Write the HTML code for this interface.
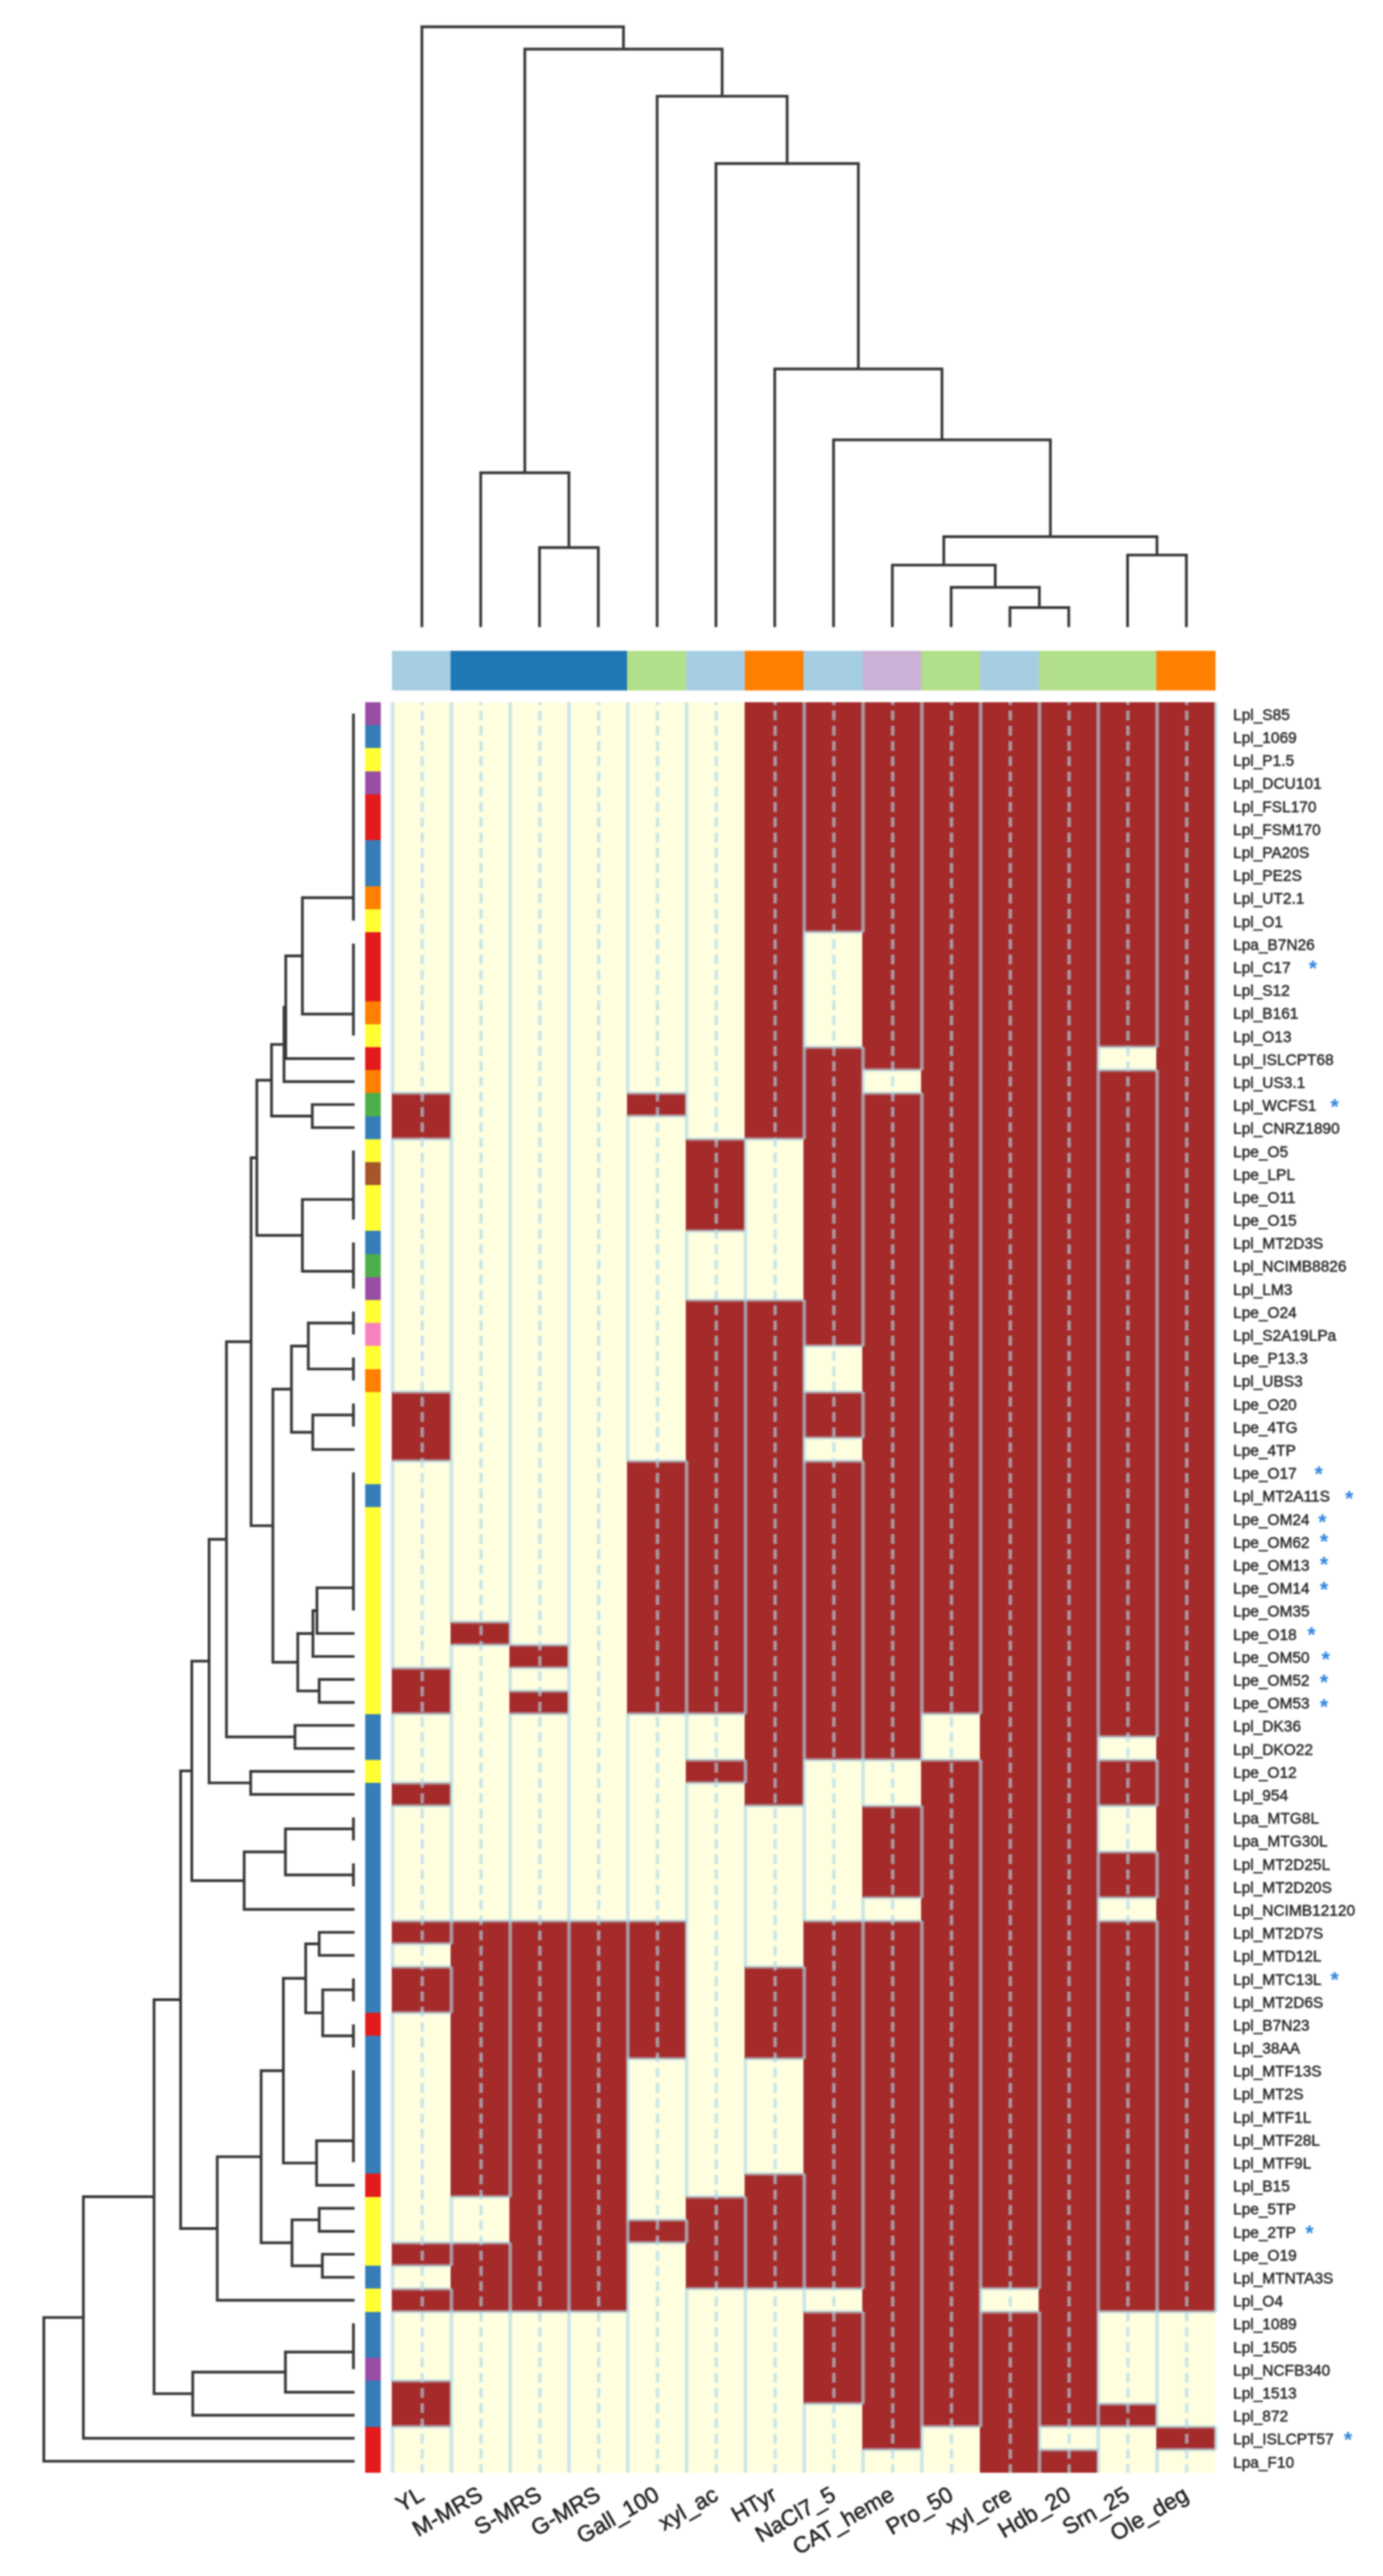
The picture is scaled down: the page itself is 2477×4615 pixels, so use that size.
<!DOCTYPE html>
<html lang="en"><head><meta charset="utf-8"><title>Phenotype heatmap</title>
<style>html,body{margin:0;padding:0;background:#fff}svg{display:block;filter:blur(1.4px)}text{font-family:"Liberation Sans",Arial,Helvetica,sans-serif;fill:#333}.rl{font-size:27.7px}.rl text{stroke:#2a2a2a;fill:#2a2a2a;stroke-width:.8px}.cl text{stroke:#222;fill:#222;stroke-width:.9px}.cl{font-size:40.5px}.as text{font-size:38px;fill:#2E86DE;font-weight:bold}</style></head><body>
<svg width="2477" height="4615" viewBox="0 0 2477 4615">
<rect width="2477" height="4615" fill="#fff"/>
<g shape-rendering="crispEdges">
<rect x="702" y="1166" width="105.32" height="71" fill="#A6CEE3"/>
<rect x="807.32" y="1166" width="315.96" height="71" fill="#1F78B4"/>
<rect x="1123.29" y="1166" width="105.32" height="71" fill="#B2DF8A"/>
<rect x="1228.61" y="1166" width="105.32" height="71" fill="#A6CEE3"/>
<rect x="1333.93" y="1166" width="105.32" height="71" fill="#FF7F00"/>
<rect x="1439.25" y="1166" width="105.32" height="71" fill="#A6CEE3"/>
<rect x="1544.57" y="1166" width="105.32" height="71" fill="#CAB2D6"/>
<rect x="1649.89" y="1166" width="105.32" height="71" fill="#B2DF8A"/>
<rect x="1755.21" y="1166" width="105.32" height="71" fill="#A6CEE3"/>
<rect x="1860.54" y="1166" width="210.64" height="71" fill="#B2DF8A"/>
<rect x="2071.18" y="1166" width="105.32" height="71" fill="#FF7F00"/>
<rect x="654" y="1258" width="28" height="41.19" fill="#984EA3"/>
<rect x="654" y="1299.19" width="28" height="41.19" fill="#377EB8"/>
<rect x="654" y="1340.39" width="28" height="41.19" fill="#FFFF33"/>
<rect x="654" y="1381.58" width="28" height="41.19" fill="#984EA3"/>
<rect x="654" y="1422.78" width="28" height="82.39" fill="#E41A1C"/>
<rect x="654" y="1505.17" width="28" height="82.39" fill="#377EB8"/>
<rect x="654" y="1587.56" width="28" height="41.19" fill="#FF7F00"/>
<rect x="654" y="1628.75" width="28" height="41.19" fill="#FFFF33"/>
<rect x="654" y="1669.95" width="28" height="123.58" fill="#E41A1C"/>
<rect x="654" y="1793.53" width="28" height="41.19" fill="#FF7F00"/>
<rect x="654" y="1834.73" width="28" height="41.19" fill="#FFFF33"/>
<rect x="654" y="1875.92" width="28" height="41.19" fill="#E41A1C"/>
<rect x="654" y="1917.12" width="28" height="41.19" fill="#FF7F00"/>
<rect x="654" y="1958.31" width="28" height="41.19" fill="#4DAF4A"/>
<rect x="654" y="1999.51" width="28" height="41.19" fill="#377EB8"/>
<rect x="654" y="2040.7" width="28" height="41.19" fill="#FFFF33"/>
<rect x="654" y="2081.9" width="28" height="41.19" fill="#A65628"/>
<rect x="654" y="2123.09" width="28" height="82.39" fill="#FFFF33"/>
<rect x="654" y="2205.48" width="28" height="41.19" fill="#377EB8"/>
<rect x="654" y="2246.68" width="28" height="41.19" fill="#4DAF4A"/>
<rect x="654" y="2287.87" width="28" height="41.19" fill="#984EA3"/>
<rect x="654" y="2329.06" width="28" height="41.19" fill="#FFFF33"/>
<rect x="654" y="2370.26" width="28" height="41.19" fill="#F781BF"/>
<rect x="654" y="2411.45" width="28" height="41.19" fill="#FFFF33"/>
<rect x="654" y="2452.65" width="28" height="41.19" fill="#FF7F00"/>
<rect x="654" y="2493.84" width="28" height="164.78" fill="#FFFF33"/>
<rect x="654" y="2658.62" width="28" height="41.19" fill="#377EB8"/>
<rect x="654" y="2699.82" width="28" height="370.75" fill="#FFFF33"/>
<rect x="654" y="3070.57" width="28" height="82.39" fill="#377EB8"/>
<rect x="654" y="3152.96" width="28" height="41.19" fill="#FFFF33"/>
<rect x="654" y="3194.16" width="28" height="411.95" fill="#377EB8"/>
<rect x="654" y="3606.1" width="28" height="41.19" fill="#E41A1C"/>
<rect x="654" y="3647.3" width="28" height="247.17" fill="#377EB8"/>
<rect x="654" y="3894.47" width="28" height="41.19" fill="#E41A1C"/>
<rect x="654" y="3935.66" width="28" height="123.58" fill="#FFFF33"/>
<rect x="654" y="4059.25" width="28" height="41.19" fill="#377EB8"/>
<rect x="654" y="4100.44" width="28" height="41.19" fill="#FFFF33"/>
<rect x="654" y="4141.64" width="28" height="82.39" fill="#377EB8"/>
<rect x="654" y="4224.03" width="28" height="41.19" fill="#984EA3"/>
<rect x="654" y="4265.22" width="28" height="82.39" fill="#377EB8"/>
<rect x="654" y="4347.61" width="28" height="82.39" fill="#E41A1C"/>
</g>
<g>
<rect x="702" y="1258" width="1474.5" height="3172" fill="#FFFFE0"/>
<rect x="701.7" y="1958.31" width="105.92" height="82.39" fill="#A52A2A"/>
<rect x="701.7" y="2493.84" width="105.92" height="123.58" fill="#A52A2A"/>
<rect x="701.7" y="2988.18" width="105.92" height="82.39" fill="#A52A2A"/>
<rect x="701.7" y="3194.16" width="105.92" height="41.19" fill="#A52A2A"/>
<rect x="701.7" y="3441.32" width="105.92" height="41.19" fill="#A52A2A"/>
<rect x="701.7" y="3523.71" width="105.92" height="82.39" fill="#A52A2A"/>
<rect x="701.7" y="4018.05" width="105.92" height="41.19" fill="#A52A2A"/>
<rect x="701.7" y="4100.44" width="105.92" height="41.19" fill="#A52A2A"/>
<rect x="701.7" y="4265.22" width="105.92" height="82.39" fill="#A52A2A"/>
<rect x="807.02" y="2905.79" width="105.92" height="41.19" fill="#A52A2A"/>
<rect x="807.02" y="3441.32" width="105.92" height="494.34" fill="#A52A2A"/>
<rect x="807.02" y="4018.05" width="105.92" height="123.58" fill="#A52A2A"/>
<rect x="912.34" y="2946.99" width="105.92" height="41.19" fill="#A52A2A"/>
<rect x="912.34" y="3029.38" width="105.92" height="41.19" fill="#A52A2A"/>
<rect x="912.34" y="3441.32" width="105.92" height="700.31" fill="#A52A2A"/>
<rect x="1017.66" y="3441.32" width="105.92" height="700.31" fill="#A52A2A"/>
<rect x="1122.99" y="1958.31" width="105.92" height="41.19" fill="#A52A2A"/>
<rect x="1122.99" y="2617.43" width="105.92" height="453.14" fill="#A52A2A"/>
<rect x="1122.99" y="3441.32" width="105.92" height="247.17" fill="#A52A2A"/>
<rect x="1122.99" y="3976.86" width="105.92" height="41.19" fill="#A52A2A"/>
<rect x="1228.31" y="2040.7" width="105.92" height="164.78" fill="#A52A2A"/>
<rect x="1228.31" y="2329.06" width="105.92" height="741.51" fill="#A52A2A"/>
<rect x="1228.31" y="3152.96" width="105.92" height="41.19" fill="#A52A2A"/>
<rect x="1228.31" y="3935.66" width="105.92" height="164.78" fill="#A52A2A"/>
<rect x="1333.63" y="1258" width="105.92" height="782.7" fill="#A52A2A"/>
<rect x="1333.63" y="2329.06" width="105.92" height="906.29" fill="#A52A2A"/>
<rect x="1333.63" y="3523.71" width="105.92" height="164.78" fill="#A52A2A"/>
<rect x="1333.63" y="3894.47" width="105.92" height="205.97" fill="#A52A2A"/>
<rect x="1438.95" y="1258" width="105.92" height="411.95" fill="#A52A2A"/>
<rect x="1438.95" y="1875.92" width="105.92" height="535.53" fill="#A52A2A"/>
<rect x="1438.95" y="2493.84" width="105.92" height="82.39" fill="#A52A2A"/>
<rect x="1438.95" y="2617.43" width="105.92" height="535.53" fill="#A52A2A"/>
<rect x="1438.95" y="3441.32" width="105.92" height="659.12" fill="#A52A2A"/>
<rect x="1438.95" y="4141.64" width="105.92" height="164.78" fill="#A52A2A"/>
<rect x="1544.27" y="1258" width="105.92" height="659.12" fill="#A52A2A"/>
<rect x="1544.27" y="1958.31" width="105.92" height="1194.65" fill="#A52A2A"/>
<rect x="1544.27" y="3235.35" width="105.92" height="164.78" fill="#A52A2A"/>
<rect x="1544.27" y="3441.32" width="105.92" height="947.48" fill="#A52A2A"/>
<rect x="1649.59" y="1258" width="105.92" height="1812.57" fill="#A52A2A"/>
<rect x="1649.59" y="3152.96" width="105.92" height="1194.65" fill="#A52A2A"/>
<rect x="1754.91" y="1258" width="105.92" height="2842.44" fill="#A52A2A"/>
<rect x="1754.91" y="4141.64" width="105.92" height="288.36" fill="#A52A2A"/>
<rect x="1860.24" y="1258" width="105.92" height="3089.61" fill="#A52A2A"/>
<rect x="1860.24" y="4388.81" width="105.92" height="41.19" fill="#A52A2A"/>
<rect x="1965.56" y="1258" width="105.92" height="617.92" fill="#A52A2A"/>
<rect x="1965.56" y="1917.12" width="105.92" height="1194.65" fill="#A52A2A"/>
<rect x="1965.56" y="3152.96" width="105.92" height="82.39" fill="#A52A2A"/>
<rect x="1965.56" y="3317.74" width="105.92" height="82.39" fill="#A52A2A"/>
<rect x="1965.56" y="3441.32" width="105.92" height="700.31" fill="#A52A2A"/>
<rect x="1965.56" y="4306.42" width="105.92" height="41.19" fill="#A52A2A"/>
<rect x="2070.88" y="1258" width="105.92" height="2883.64" fill="#A52A2A"/>
<rect x="2070.88" y="4347.61" width="105.92" height="41.19" fill="#A52A2A"/>
</g>
<g stroke="#ADD8E6" stroke-width="6.4" stroke-opacity="0.62" stroke-dasharray="17.6 9.72" stroke-dashoffset="12.32" fill="none">
<line x1="756.26" y1="1258" x2="756.26" y2="4430"/>
<line x1="861.58" y1="1258" x2="861.58" y2="4430"/>
<line x1="966.9" y1="1258" x2="966.9" y2="4430"/>
<line x1="1072.22" y1="1258" x2="1072.22" y2="4430"/>
<line x1="1177.55" y1="1258" x2="1177.55" y2="4430"/>
<line x1="1282.87" y1="1258" x2="1282.87" y2="4430"/>
<line x1="1388.19" y1="1258" x2="1388.19" y2="4430"/>
<line x1="1493.51" y1="1258" x2="1493.51" y2="4430"/>
<line x1="1598.83" y1="1258" x2="1598.83" y2="4430"/>
<line x1="1704.15" y1="1258" x2="1704.15" y2="4430"/>
<line x1="1809.47" y1="1258" x2="1809.47" y2="4430"/>
<line x1="1914.8" y1="1258" x2="1914.8" y2="4430"/>
<line x1="2020.12" y1="1258" x2="2020.12" y2="4430"/>
<line x1="2125.44" y1="1258" x2="2125.44" y2="4430"/>
</g>
<g fill="none" stroke="#ADD8E6">
<path stroke-width="7" stroke-opacity="0.5" d="M703 1958.31H808.52M703 2040.7H808.52M703 2493.84H808.52M703 2617.43H808.52M703 2988.18H808.52M703 3070.57H808.52M703 3194.16H808.52M703 3235.35H808.52M703 3441.32H808.52M703 3482.52H808.52M703 3523.71H808.52M703 3606.1H808.52M703 4018.05H808.52M703 4059.25H808.52M703 4100.44H808.52M703 4141.64H808.52M703 4265.22H808.52M703 4347.61H808.52M808.52 2905.79H913.84M808.52 2946.99H913.84M808.52 3441.32H913.84M808.52 3935.66H913.84M808.52 4018.05H913.84M808.52 4141.64H913.84M913.84 2946.99H1019.16M913.84 2988.18H1019.16M913.84 3029.38H1019.16M913.84 3070.57H1019.16M913.84 3441.32H1019.16M913.84 4141.64H1019.16M1019.16 3441.32H1124.49M1019.16 4141.64H1124.49M1124.49 1958.31H1229.81M1124.49 1999.51H1229.81M1124.49 2617.43H1229.81M1124.49 3070.57H1229.81M1124.49 3441.32H1229.81M1124.49 3688.49H1229.81M1124.49 3976.86H1229.81M1124.49 4018.05H1229.81M1229.81 2040.7H1335.13M1229.81 2205.48H1335.13M1229.81 2329.06H1335.13M1229.81 3070.57H1335.13M1229.81 3152.96H1335.13M1229.81 3194.16H1335.13M1229.81 3935.66H1335.13M1229.81 4100.44H1335.13M1335.13 2040.7H1440.45M1335.13 2329.06H1440.45M1335.13 3235.35H1440.45M1335.13 3523.71H1440.45M1335.13 3688.49H1440.45M1335.13 3894.47H1440.45M1335.13 4100.44H1440.45M1440.45 1669.95H1545.77M1440.45 1875.92H1545.77M1440.45 2411.45H1545.77M1440.45 2493.84H1545.77M1440.45 2576.23H1545.77M1440.45 2617.43H1545.77M1440.45 3152.96H1545.77M1440.45 3441.32H1545.77M1440.45 4100.44H1545.77M1440.45 4141.64H1545.77M1440.45 4306.42H1545.77M1545.77 1917.12H1651.09M1545.77 1958.31H1651.09M1545.77 3152.96H1651.09M1545.77 3235.35H1651.09M1545.77 3400.13H1651.09M1545.77 3441.32H1651.09M1545.77 4388.81H1651.09M1651.09 3070.57H1756.41M1651.09 3152.96H1756.41M1651.09 4347.61H1756.41M1756.41 4100.44H1861.74M1756.41 4141.64H1861.74M1861.74 4347.61H1967.06M1861.74 4388.81H1967.06M1967.06 1875.92H2072.38M1967.06 1917.12H2072.38M1967.06 3111.77H2072.38M1967.06 3152.96H2072.38M1967.06 3235.35H2072.38M1967.06 3317.74H2072.38M1967.06 3400.13H2072.38M1967.06 3441.32H2072.38M1967.06 4141.64H2072.38M1967.06 4306.42H2072.38M1967.06 4347.61H2072.38M2072.38 4141.64H2177.5M2072.38 4347.61H2177.5M2072.38 4388.81H2177.5"/>
<path stroke-width="6.6" stroke-opacity="0.62" d="M703 1258V1958.31M808.52 1958.31V2040.7M703 2040.7V2493.84M808.52 2493.84V2617.43M703 2617.43V2988.18M808.52 2988.18V3070.57M703 3070.57V3194.16M808.52 3194.16V3235.35M703 3235.35V3441.32M808.52 3441.32V3482.52M703 3482.52V3523.71M808.52 3523.71V3606.1M703 3606.1V4018.05M808.52 4018.05V4059.25M703 4059.25V4100.44M808.52 4100.44V4141.64M703 4141.64V4265.22M808.52 4265.22V4347.61M703 4347.61V4430M808.52 1258V2905.79M913.84 2905.79V2946.99M808.52 2946.99V3441.32M913.84 3441.32V3935.66M808.52 3935.66V4018.05M913.84 4018.05V4141.64M808.52 4141.64V4430M913.84 1258V2946.99M1019.16 2946.99V2988.18M913.84 2988.18V3029.38M1019.16 3029.38V3070.57M913.84 3070.57V3441.32M1019.16 3441.32V4141.64M913.84 4141.64V4430M1019.16 1258V3441.32M1124.49 3441.32V4141.64M1019.16 4141.64V4430M1124.49 1258V1958.31M1229.81 1958.31V1999.51M1124.49 1999.51V2617.43M1229.81 2617.43V3070.57M1124.49 3070.57V3441.32M1229.81 3441.32V3688.49M1124.49 3688.49V3976.86M1229.81 3976.86V4018.05M1124.49 4018.05V4430M1229.81 1258V2040.7M1335.13 2040.7V2205.48M1229.81 2205.48V2329.06M1335.13 2329.06V3070.57M1229.81 3070.57V3152.96M1335.13 3152.96V3194.16M1229.81 3194.16V3935.66M1335.13 3935.66V4100.44M1229.81 4100.44V4430M1440.45 1258V2040.7M1335.13 2040.7V2329.06M1440.45 2329.06V3235.35M1335.13 3235.35V3523.71M1440.45 3523.71V3688.49M1335.13 3688.49V3894.47M1440.45 3894.47V4100.44M1335.13 4100.44V4430M1545.77 1258V1669.95M1440.45 1669.95V1875.92M1545.77 1875.92V2411.45M1440.45 2411.45V2493.84M1545.77 2493.84V2576.23M1440.45 2576.23V2617.43M1545.77 2617.43V3152.96M1440.45 3152.96V3441.32M1545.77 3441.32V4100.44M1440.45 4100.44V4141.64M1545.77 4141.64V4306.42M1440.45 4306.42V4430M1651.09 1258V1917.12M1545.77 1917.12V1958.31M1651.09 1958.31V3152.96M1545.77 3152.96V3235.35M1651.09 3235.35V3400.13M1545.77 3400.13V3441.32M1651.09 3441.32V4388.81M1545.77 4388.81V4430M1756.41 1258V3070.57M1651.09 3070.57V3152.96M1756.41 3152.96V4347.61M1651.09 4347.61V4430M1861.74 1258V4100.44M1756.41 4100.44V4141.64M1861.74 4141.64V4430M1967.06 1258V4347.61M1861.74 4347.61V4388.81M1967.06 4388.81V4430M2072.38 1258V1875.92M1967.06 1875.92V1917.12M2072.38 1917.12V3111.77M1967.06 3111.77V3152.96M2072.38 3152.96V3235.35M1967.06 3235.35V3317.74M2072.38 3317.74V3400.13M1967.06 3400.13V3441.32M2072.38 3441.32V4141.64M1967.06 4141.64V4306.42M2072.38 4306.42V4347.61M1967.06 4347.61V4430M2177.5 1258V4141.64M2072.38 4141.64V4347.61M2177.5 4347.61V4388.81M2072.38 4388.81V4430"/>
</g>
<g stroke="#363636" stroke-width="4.9" fill="none" stroke-linejoin="miter" stroke-linecap="butt">
<path d="M755.66 1123.5V48H1116.67V88M939.97 847V88H1293.38V172.4M860.98 1123.5V847H1018.96V981M966.3 1123.5V981H1071.62V1123.5M1176.95 1123.5V172.4H1409.81V293M1282.27 1123.5V293H1537.34V661M1387.59 1123.5V661H1687.1V788M1492.91 1123.5V788H1881.28V961.5M1690.39 1012.4V961.5H2072.18V994.4M1598.23 1123.5V1012.4H1782.54V1052.3M1703.55 1123.5V1052.3H1861.54V1088.5M1808.88 1123.5V1088.5H1914.2V1123.5M2019.52 1123.5V994.4H2124.84V1123.5"/>
</g>
<g stroke="#363636" stroke-width="4.9" fill="none" stroke-linejoin="miter" stroke-linecap="butt">
<path d="M633 1278.6V1649.35M633 1690.55V1855.32M633 1608.24H541.6V1816.7H633M541.6 1712.47H511.8V1896.52H635M511.8 1804.49H508.7V1937.71H635M635 1978.91H559.3V2020.1H635M508.7 1871.1H486.3V1999.51H559.3M633 2061.3V2184.88M633 2226.08V2308.47M633 2148.84H541.6V2277.57H633M486.3 1935.31H460V2213.2H541.6M633 2349.66V2390.86M633 2432.05V2473.25M633 2370.26H552.2V2452.65H633M633 2514.44V2555.64M633 2535.04H560.2V2596.83H635M552.2 2411.45H522V2565.94H560.2M633 2638.03V2885.19M633 2844.64H567.7V2926.39H635M567.7 2885.52H560.5V2967.58H635M635 3008.78H571.7V3049.97H635M560.5 2926.55H533.3V3029.38H571.7M522 2488.69H488.8V2977.96H533.3M460 2074.26H449.7V2733.33H488.8M635 3091.17H528.3V3132.36H635M449.7 2403.79H405.6V3111.77H528.3M635 3173.56H449V3214.75H635M405.6 2757.78H374.5V3194.16H449M633 3255.95V3297.14M633 3338.34V3379.53M633 3276.55H511.2V3358.94H633M511.2 3317.74H437.3V3420.73H635M374.5 2975.97H343.5V3369.23H437.3M635 3461.92H571.7V3503.12H635M633 3544.31V3585.51M633 3626.7V3667.9M633 3564.91H578V3647.3H633M571.7 3482.52H547.5V3606.1H578M633 3709.09V3873.87M633 3835.25H567V3915.06H635M547.5 3544.31H507.5V3875.16H567M635 3956.26H571.7V3997.45H635M635 4038.65H577.3V4079.84H635M571.7 3976.86H523V4059.25H577.3M507.5 3709.73H467.7V4018.05H523M467.7 3863.89H389.1V4121.04H635M343.5 3172.6H323.5V3992.47H389.1M633 4162.23V4244.62M633 4213.73H511.2V4285.82H635M511.2 4249.77H345.2V4327.01H635M323.5 3582.53H275.9V4288.39H345.2M275.9 3935.46H149.3V4368.21H635M149.3 4151.84H78.5V4409.4H635"/>
</g>
<g class="rl">
<text x="2208.5" y="1289.8">Lpl_S85</text>
<text x="2208.5" y="1330.99">Lpl_1069</text>
<text x="2208.5" y="1372.19">Lpl_P1.5</text>
<text x="2208.5" y="1413.38">Lpl_DCU101</text>
<text x="2208.5" y="1454.58">Lpl_FSL170</text>
<text x="2208.5" y="1495.77">Lpl_FSM170</text>
<text x="2208.5" y="1536.97">Lpl_PA20S</text>
<text x="2208.5" y="1578.16">Lpl_PE2S</text>
<text x="2208.5" y="1619.36">Lpl_UT2.1</text>
<text x="2208.5" y="1660.55">Lpl_O1</text>
<text x="2208.5" y="1701.75">Lpa_B7N26</text>
<text x="2208.5" y="1742.94">Lpl_C17</text>
<text x="2208.5" y="1784.14">Lpl_S12</text>
<text x="2208.5" y="1825.33">Lpl_B161</text>
<text x="2208.5" y="1866.52">Lpl_O13</text>
<text x="2208.5" y="1907.72">Lpl_ISLCPT68</text>
<text x="2208.5" y="1948.91">Lpl_US3.1</text>
<text x="2208.5" y="1990.11">Lpl_WCFS1</text>
<text x="2208.5" y="2031.3">Lpl_CNRZ1890</text>
<text x="2208.5" y="2072.5">Lpe_O5</text>
<text x="2208.5" y="2113.69">Lpe_LPL</text>
<text x="2208.5" y="2154.89">Lpe_O11</text>
<text x="2208.5" y="2196.08">Lpe_O15</text>
<text x="2208.5" y="2237.28">Lpl_MT2D3S</text>
<text x="2208.5" y="2278.47">Lpl_NCIMB8826</text>
<text x="2208.5" y="2319.67">Lpl_LM3</text>
<text x="2208.5" y="2360.86">Lpe_O24</text>
<text x="2208.5" y="2402.06">Lpl_S2A19LPa</text>
<text x="2208.5" y="2443.25">Lpe_P13.3</text>
<text x="2208.5" y="2484.45">Lpl_UBS3</text>
<text x="2208.5" y="2525.64">Lpe_O20</text>
<text x="2208.5" y="2566.84">Lpe_4TG</text>
<text x="2208.5" y="2608.03">Lpe_4TP</text>
<text x="2208.5" y="2649.23">Lpe_O17</text>
<text x="2208.5" y="2690.42">Lpl_MT2A11S</text>
<text x="2208.5" y="2731.62">Lpe_OM24</text>
<text x="2208.5" y="2772.81">Lpe_OM62</text>
<text x="2208.5" y="2814.01">Lpe_OM13</text>
<text x="2208.5" y="2855.2">Lpe_OM14</text>
<text x="2208.5" y="2896.39">Lpe_OM35</text>
<text x="2208.5" y="2937.59">Lpe_O18</text>
<text x="2208.5" y="2978.78">Lpe_OM50</text>
<text x="2208.5" y="3019.98">Lpe_OM52</text>
<text x="2208.5" y="3061.17">Lpe_OM53</text>
<text x="2208.5" y="3102.37">Lpl_DK36</text>
<text x="2208.5" y="3143.56">Lpl_DKO22</text>
<text x="2208.5" y="3184.76">Lpe_O12</text>
<text x="2208.5" y="3225.95">Lpl_954</text>
<text x="2208.5" y="3267.15">Lpa_MTG8L</text>
<text x="2208.5" y="3308.34">Lpa_MTG30L</text>
<text x="2208.5" y="3349.54">Lpl_MT2D25L</text>
<text x="2208.5" y="3390.73">Lpl_MT2D20S</text>
<text x="2208.5" y="3431.93">Lpl_NCIMB12120</text>
<text x="2208.5" y="3473.12">Lpl_MT2D7S</text>
<text x="2208.5" y="3514.32">Lpl_MTD12L</text>
<text x="2208.5" y="3555.51">Lpl_MTC13L</text>
<text x="2208.5" y="3596.71">Lpl_MT2D6S</text>
<text x="2208.5" y="3637.9">Lpl_B7N23</text>
<text x="2208.5" y="3679.1">Lpl_38AA</text>
<text x="2208.5" y="3720.29">Lpl_MTF13S</text>
<text x="2208.5" y="3761.49">Lpl_MT2S</text>
<text x="2208.5" y="3802.68">Lpl_MTF1L</text>
<text x="2208.5" y="3843.88">Lpl_MTF28L</text>
<text x="2208.5" y="3885.07">Lpl_MTF9L</text>
<text x="2208.5" y="3926.26">Lpl_B15</text>
<text x="2208.5" y="3967.46">Lpe_5TP</text>
<text x="2208.5" y="4008.65">Lpe_2TP</text>
<text x="2208.5" y="4049.85">Lpe_O19</text>
<text x="2208.5" y="4091.04">Lpl_MTNTA3S</text>
<text x="2208.5" y="4132.24">Lpl_O4</text>
<text x="2208.5" y="4173.43">Lpl_1089</text>
<text x="2208.5" y="4214.63">Lpl_1505</text>
<text x="2208.5" y="4255.82">Lpl_NCFB340</text>
<text x="2208.5" y="4297.02">Lpl_1513</text>
<text x="2208.5" y="4338.21">Lpl_872</text>
<text x="2208.5" y="4379.41">Lpl_ISLCPT57</text>
<text x="2208.5" y="4420.6">Lpa_F10</text>
</g>
<g class="as" text-anchor="middle">
<text x="2351.5" y="1747.74">*</text>
<text x="2390.5" y="1995.91">*</text>
<text x="2362" y="2654.03">*</text>
<text x="2416.5" y="2698.22">*</text>
<text x="2368.5" y="2740.42">*</text>
<text x="2371.5" y="2775.11">*</text>
<text x="2371.5" y="2815.81">*</text>
<text x="2371.5" y="2861">*</text>
<text x="2349" y="2942.39">*</text>
<text x="2374.5" y="2985.58">*</text>
<text x="2371.5" y="3026.78">*</text>
<text x="2371.5" y="3071.37">*</text>
<text x="2390.5" y="3560.31">*</text>
<text x="2345.5" y="4014.45">*</text>
<text x="2414.5" y="4384.21">*</text>
</g>
<g class="cl" text-anchor="end">
<text transform="translate(762.16 4477) rotate(-30)">YL</text>
<text transform="translate(867.48 4477) rotate(-30)">M-MRS</text>
<text transform="translate(972.8 4477) rotate(-30)">S-MRS</text>
<text transform="translate(1078.12 4477) rotate(-30)">G-MRS</text>
<text transform="translate(1183.45 4477) rotate(-30)">Gall_100</text>
<text transform="translate(1288.77 4477) rotate(-30)">xyl_ac</text>
<text transform="translate(1394.09 4477) rotate(-30)">HTyr</text>
<text transform="translate(1499.41 4477) rotate(-30)">NaCl7_5</text>
<text transform="translate(1604.73 4477) rotate(-30)">CAT_heme</text>
<text transform="translate(1710.05 4477) rotate(-30)">Pro_50</text>
<text transform="translate(1815.38 4477) rotate(-30)">xyl_cre</text>
<text transform="translate(1920.7 4477) rotate(-30)">Hdb_20</text>
<text transform="translate(2026.02 4477) rotate(-30)">Srn_25</text>
<text transform="translate(2131.34 4477) rotate(-30)">Ole_deg</text>
</g>
</svg></body></html>
